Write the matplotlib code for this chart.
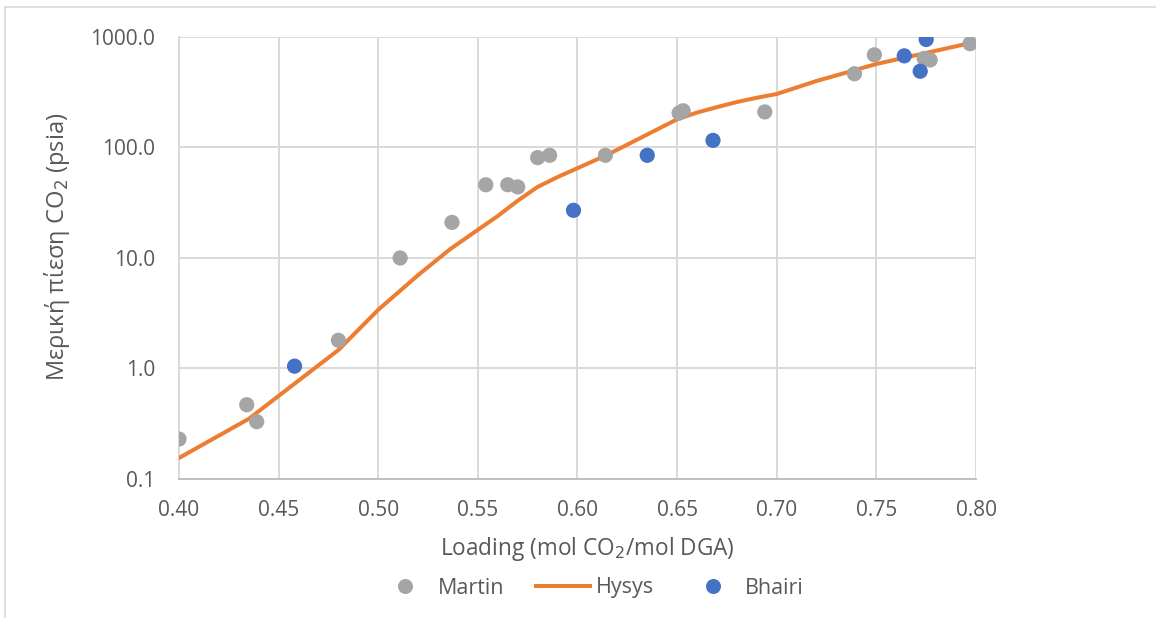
import matplotlib
matplotlib.use("Agg")
import matplotlib.pyplot as plt
from matplotlib.lines import Line2D
from matplotlib.ticker import FixedLocator, NullLocator, FuncFormatter

# Experimental data (loading in mol CO2/mol DGA, partial pressure in psia)
martin_loading = [0.400, 0.434, 0.439, 0.480, 0.511, 0.537, 0.554, 0.565, 0.570,
                  0.580, 0.586, 0.614, 0.651, 0.653, 0.694, 0.739, 0.749, 0.774,
                  0.777, 0.797]
martin_pressure = [0.23, 0.47, 0.33, 1.8, 10.0, 21.0, 46.0, 46.0, 44.0,
                   81.0, 85.0, 85.0, 205.0, 215.0, 210.0, 465.0, 690.0, 640.0,
                   620.0, 870.0]

bhairi_loading = [0.458, 0.598, 0.635, 0.668, 0.764, 0.775, 0.772]
bhairi_pressure = [1.05, 27.0, 85.0, 116.0, 675.0, 950.0, 490.0]

# Simulation results
hysys_loading = [0.400, 0.435, 0.480, 0.500, 0.520, 0.536, 0.550, 0.560, 0.570,
                 0.580, 0.590, 0.600, 0.615, 0.630, 0.650, 0.660, 0.670, 0.680,
                 0.690, 0.700, 0.720, 0.750, 0.797]
hysys_pressure = [0.155, 0.35, 1.47, 3.4, 7.0, 12.0, 18.0, 24.0, 33.0,
                  44.0, 54.0, 65.0, 86.0, 118.0, 180.0, 207.0, 232.0, 258.0,
                  282.0, 305.0, 400.0, 570.0, 880.0]

x_ticks = [0.40, 0.45, 0.50, 0.55, 0.60, 0.65, 0.70, 0.75, 0.80]
y_ticks = [0.1, 1.0, 10.0, 100.0, 1000.0]

plt.rcParams['font.family'] = ['Open Sans', 'DejaVu Sans']

W, H = 1156, 618
fig = plt.figure(figsize=(W / 100, H / 100), dpi=100)
fig.patch.set_facecolor('white')

left, right, top, bottom = 179, 976, 37, 479
ax = fig.add_axes([left / W, 1 - bottom / H, (right - left) / W, (bottom - top) / H])

text_col = '#595959'
grid_col = '#D9D9D9'
gray = '#A5A5A5'
orange = '#ED7D31'
blue = '#4472C4'

ax.plot(hysys_loading, hysys_pressure, color=orange, lw=2.9, solid_capstyle='round',
        solid_joinstyle='round', zorder=3)
ax.scatter(martin_loading, martin_pressure, s=120, color=gray, edgecolors='none', zorder=4)
ax.scatter(bhairi_loading, bhairi_pressure, s=120, color=blue, edgecolors='none', zorder=5)

ax.set_yscale('log')
ax.set_xlim(0.40, 0.80)
ax.set_ylim(0.1, 1000)
ax.xaxis.set_major_locator(FixedLocator(x_ticks))
ax.yaxis.set_major_locator(FixedLocator(y_ticks))
ax.yaxis.set_minor_locator(NullLocator())
ax.xaxis.set_major_formatter(FuncFormatter(lambda v, p: f"{v:.2f}"))
ax.yaxis.set_major_formatter(FuncFormatter(lambda v, p: f"{v:.1f}"))

ax.grid(True, which='major', color=grid_col, lw=1.4, zorder=0)
ax.set_axisbelow(True)
for side in ['top', 'right']:
    ax.spines[side].set_visible(False)
ax.spines['left'].set_color(grid_col)
ax.spines['left'].set_linewidth(1.4)
ax.spines['bottom'].set_color('#BFBFBF')
ax.spines['bottom'].set_linewidth(1.4)
ax.tick_params(axis='both', length=0, labelsize=15, colors=text_col)
ax.tick_params(axis='x', pad=15)
ax.tick_params(axis='y', pad=17)

# Axis titles
fig.text(587 / W, 1 - 549 / H, 'Loading (mol CO$_2$/mol DGA)', fontsize=16.3,
         color=text_col, ha='center', va='center')
fig.text(57 / W, 1 - 247 / H, 'Μερική πίεση CO$_2$ (psia)', fontsize=17,
         color=text_col, ha='center', va='center', rotation=90)

handles = [
    Line2D([], [], marker='o', ls='none', color=gray, markersize=10.8, markeredgewidth=0),
    Line2D([], [], color=orange, lw=2.9),
    Line2D([], [], marker='o', ls='none', color=blue, markersize=10.8, markeredgewidth=0),
]
fig.legend(handles, ['Martin', 'Hysys', 'Bhairi'], loc='center', ncol=3,
           bbox_to_anchor=(591 / W, 1 - 588 / H), frameon=False, fontsize=15.5,
           labelcolor=text_col, handlelength=2.5, columnspacing=1.5,
           handletextpad=0.25, borderpad=0.2)

# Chart area frame
fig.add_artist(Line2D([5 / W, 1.0], [1 - 7 / H, 1 - 7 / H], color='#D9D9D9', lw=1.2))
fig.add_artist(Line2D([5 / W, 5 / W], [0.0, 1 - 7 / H], color='#D9D9D9', lw=1.2))

fig.savefig('out.png', dpi=100, facecolor='white')
